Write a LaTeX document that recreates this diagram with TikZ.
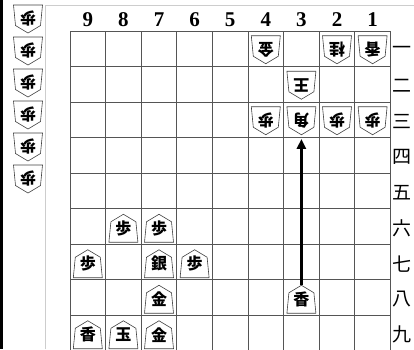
\documentclass[tikz,border=0pt]{standalone}
\usepackage{fontspec}
\usepackage{graphicx}
\newfontfamily\jpfont{Noto Sans CJK JP}
\newfontfamily\numfont{Liberation Serif}
\usetikzlibrary{arrows.meta}
\definecolor{GridGray}{RGB}{85,85,85}
\definecolor{FrameGray}{RGB}{205,205,205}
\newcommand\bx{70}
\newcommand\by{31}
\newcommand\cw{35.6}
\newcommand\ch{35.5}
\tikzset{
  gridline/.style={draw=GridGray, line width=0.9pt},
  framerule/.style={draw=FrameGray, line width=1pt},
  piecebody/.style={draw=black!75, fill=white, line width=0.6pt},
  piecetext/.style={inner sep=0pt, minimum width=29pt, minimum height=28pt,
                    font=\jpfont\bfseries\fontsize{16}{16}\selectfont},
  filelabel/.style={inner sep=0pt, font=\numfont\bfseries\fontsize{21}{21}\selectfont},
  ranklabel/.style={anchor=west, inner sep=0pt, font=\jpfont\fontsize{19}{19}\selectfont},
  movearr/.style={-{Triangle[length=10pt, width=9pt]}, line width=3pt, shorten >=4pt},
}
% sente piece (pointing up), centre of cell at (#2,#3)
\newcommand\senteat[4]{%
  \begin{scope}[shift={({#2},{#3})}]
    \path[piecebody] (0,-12) -- (12.5,-4.5) -- (14.5,16) -- (-14.5,16) -- (-12.5,-4.5) -- cycle;
    \node[piecetext] (#1) at (0,2) {#4};
  \end{scope}}
% gote piece (pointing down)
\newcommand\goteat[4]{%
  \begin{scope}[shift={({#2},{#3})}]
    \path[piecebody] (0,15) -- (12.5,7.5) -- (14.5,-13) -- (-14.5,-13) -- (-12.5,7.5) -- cycle;
    \node[piecetext] (#1) at (0,1) {\rotatebox{180}{#4}};
  \end{scope}}
\newcommand\sente[4]{\senteat{#1}{\bx+(9.5-#2)*\cw}{\by+(#3-0.5)*\ch}{#4}}
\newcommand\gote[4]{\goteat{#1}{\bx+(9.5-#2)*\cw}{\by+(#3-0.5)*\ch}{#4}}

\begin{document}
\begin{tikzpicture}[x=1pt, y=-1pt]
  \useasboundingbox (0,0) rectangle (414,349);
  \clip (0,0) rectangle (414,349);
  \fill[black] (0,0) rectangle (3,349);
  \draw[framerule] (45.5,349) -- (45.5,5.5) -- (414,5.5);

  % board
  \foreach \i in {0,...,9} {
    \draw[gridline] ({\bx+\i*\cw},\by) -- ({\bx+\i*\cw},{\by+9*\ch});
    \draw[gridline] (\bx,{\by+\i*\ch}) -- ({\bx+9*\cw},{\by+\i*\ch});
  }
  \foreach \c in {1,...,9}
    \node[filelabel] (f\c) at ({\bx+(9.5-\c)*\cw},20) {\c};
  \foreach \r/\t in {1/一,2/二,3/三,4/四,5/五,6/六,7/七,8/八,9/九}
    \node[ranklabel] (r\r) at (392,{\by+(\r-0.5)*\ch+2}) {\t};

  % pieces in hand
  \foreach \k in {0,...,5}
    \goteat{h\k}{28}{18+32*\k}{歩};

  % gote
  \gote{q41}{4}{1}{金}
  \gote{q21}{2}{1}{桂}
  \gote{q11}{1}{1}{香}
  \gote{q32}{3}{2}{王}
  \gote{q43}{4}{3}{歩}
  \gote{q33}{3}{3}{角}
  \gote{q23}{2}{3}{歩}
  \gote{q13}{1}{3}{歩}

  % sente
  \sente{p86}{8}{6}{歩}
  \sente{p76}{7}{6}{歩}
  \sente{p97}{9}{7}{歩}
  \sente{p77}{7}{7}{銀}
  \sente{p67}{6}{7}{歩}
  \sente{p78}{7}{8}{金}
  \sente{p38}{3}{8}{香}
  \sente{p99}{9}{9}{香}
  \sente{p89}{8}{9}{玉}
  \sente{p79}{7}{9}{金}

  \draw[movearr] (p38.north) -- (q33.south);
\end{tikzpicture}
\end{document}
